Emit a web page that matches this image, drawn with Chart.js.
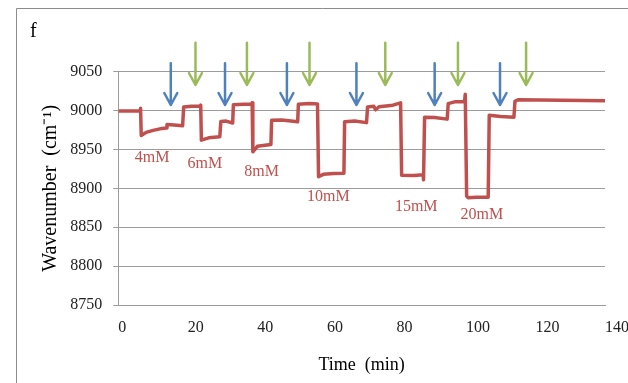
<!DOCTYPE html>
<html><head><meta charset="utf-8">
<script src="https://cdn.jsdelivr.net/npm/chart.js@4/dist/chart.umd.min.js"></script>
<style>html,body{margin:0;padding:0;background:#fff;overflow:hidden}canvas{display:block}</style>
</head><body>
<canvas id="c" width="628" height="383"></canvas>
<script>
// ---- data ----
const time = [0, 6.3, 6.4, 6.6, 8, 10, 12, 13.8, 14.0, 16, 18.5, 18.8, 21, 23.5, 23.7, 23.9, 26, 29.2, 29.5, 31, 32.9, 33.1, 36, 38.3, 38.5, 38.7, 40, 43.9, 44.1, 47, 49, 51.6, 51.8, 55, 57.3, 57.6, 59, 62, 64.9, 65.1, 68, 71.4, 71.7, 73.5, 74, 75, 79, 81.2, 81.5, 85, 87.7, 87.8, 88.1, 91, 94.6, 94.9, 97, 99.6, 99.8, 100.2, 100.6, 103, 106.4, 106.7, 110, 113.8, 114.1, 115, 140];
const wavenumber = [8999.5, 8999.5, 9003, 8968, 8972, 8974.5, 8976.5, 8977.5, 8982, 8981.5, 8980.5, 9004.5, 9005.5, 9005.5, 9007, 8962, 8965, 8966.5, 8986, 8986.5, 8984, 9007.5, 9008, 9008, 9010, 8947, 8954, 8956.5, 8987.5, 8988, 8987, 8985.5, 9008, 9009, 9008.5, 8915, 8918, 8919, 8919.5, 8985.5, 8986.5, 8984.5, 9004.5, 9005.5, 9001, 9005, 9007, 9010, 8917, 8916.5, 8917.5, 8911, 8991.5, 8991, 8989, 9009, 9011.5, 9011.5, 9021, 8890, 8888, 8888.5, 8888.5, 8994, 8992.5, 8991.5, 9012, 9014, 9012.5];
const xTicks = [0, 20, 40, 60, 80, 100, 120, 140];
const yTicks = [8750, 8800, 8850, 8900, 8950, 9000, 9050];
const concLabels = ['4mM', '6mM', '8mM', '10mM', '15mM', '20mM'];
const concTime = [9.7, 24.9, 41.2, 60.4, 85.7, 104.6];
const concValue = [8939, 8932, 8921.7, 8889.3, 8876.4, 8865.7];
const blueArrowTime = [15.1, 30.7, 48.5, 68.5, 91.0, 109.8];
const greenArrowTime = [22.2, 37.0, 55.0, 76.8, 97.7, 117.3];
const blueArrowFrom = 9060.8, blueArrowTo = 9007.2;
const greenArrowFrom = 9087.3, greenArrowTo = 9032.9;

const SERIF = "'Liberation Serif', 'Times New Roman', serif";
const RED = '#c0504d', BLUE = '#4f81bd', GREEN = '#9bbb59', GRID = '#9c9c9c';

const points = time.map((t, i) => ({x: t, y: wavenumber[i]}));

const framePlugin = {
  id: 'frame',
  beforeDraw(chart) {
    const ctx = chart.ctx;
    ctx.save();
    ctx.fillStyle = '#fff';
    ctx.fillRect(0, 0, chart.width, chart.height);
    ctx.strokeStyle = '#8c8c8c';
    ctx.lineWidth = 1;
    ctx.beginPath();
    ctx.moveTo(16.5, chart.height);
    ctx.lineTo(16.5, 8.5);
    ctx.lineTo(chart.width, 8.5);
    ctx.stroke();
    ctx.restore();
  }
};

const annotPlugin = {
  id: 'annot',
  afterDatasetsDraw(chart) {
    const ctx = chart.ctx, xs = chart.scales.x, ys = chart.scales.y;
    ctx.save();
    ctx.font = '16px ' + SERIF;
    ctx.fillStyle = RED;
    ctx.textAlign = 'center';
    ctx.textBaseline = 'middle';
    concLabels.forEach((s, i) => {
      ctx.fillText(s, xs.getPixelForValue(concTime[i]), ys.getPixelForValue(concValue[i]));
    });
    const arrow = (t, from, to, color) => {
      const x = xs.getPixelForValue(t);
      const y0 = ys.getPixelForValue(from), y1 = ys.getPixelForValue(to);
      ctx.strokeStyle = color;
      ctx.lineWidth = 2.5;
      ctx.lineCap = 'round';
      ctx.lineJoin = 'round';
      ctx.beginPath();
      ctx.moveTo(x, y0); ctx.lineTo(x, y1);
      ctx.moveTo(x - 6.5, y1 - 12); ctx.lineTo(x, y1); ctx.lineTo(x + 6.5, y1 - 12);
      ctx.stroke();
    };
    blueArrowTime.forEach(t => arrow(t, blueArrowFrom, blueArrowTo, BLUE));
    greenArrowTime.forEach(t => arrow(t, greenArrowFrom, greenArrowTo, GREEN));
    ctx.restore();
  }
};

new Chart(document.getElementById('c'), {
  type: 'line',
  data: {
    datasets: [{
      data: points,
      borderColor: RED,
      borderWidth: 3.5,
      pointRadius: 0,
      tension: 0,
      fill: false,
      borderJoinStyle: 'round',
      borderCapStyle: 'butt'
    }]
  },
  options: {
    responsive: false,
    devicePixelRatio: 1,
    animation: false,
    events: [],
    layout: {padding: {left: 30, right: 23, top: 0, bottom: 0}},
    plugins: {
      legend: {display: false},
      tooltip: {enabled: false},
      title: {
        display: true,
        text: 'f',
        align: 'start',
        color: '#000',
        font: {family: SERIF, size: 20, weight: 'normal'},
        padding: {top: 19.25, bottom: 28.45}
      }
    },
    scales: {
      x: {
        type: 'linear',
        min: 0, max: 140,
        afterBuildTicks: s => { s.ticks = xTicks.map(v => ({value: v})); },
        afterFit: s => { s.height = 78; s.paddingLeft = 0; s.paddingRight = 0; },
        grid: {display: false, drawTicks: false},
        border: {display: true, color: GRID, width: 1},
        ticks: {
          align: 'start',
          padding: 13,
          color: '#222',
          maxRotation: 0,
          autoSkip: false,
          font: {family: SERIF, size: 16},
          callback: v => String(v)
        },
        title: {
          display: true,
          text: 'Time  (min)',
          color: '#000',
          font: {family: SERIF, size: 18},
          padding: {top: 0, bottom: 7}
        }
      },
      y: {
        type: 'linear',
        min: 8750, max: 9050,
        afterBuildTicks: s => { s.ticks = yTicks.map(v => ({value: v})); },
        afterFit: s => { s.width = 88.3; s.paddingTop = 0; s.paddingBottom = 0; },
        grid: {display: true, color: GRID, lineWidth: 1, drawTicks: true, tickLength: 5},
        border: {display: true, color: GRID, width: 1},
        ticks: {
          padding: 11,
          color: '#222',
          autoSkip: false,
          font: {family: SERIF, size: 16},
          callback: v => String(v)
        },
        title: {
          display: true,
          text: 'Wavenumber  (cm\u207B\u00B9)',
          color: '#000',
          font: {family: SERIF, size: 20},
          padding: {top: 8.25, bottom: 0}
        }
      }
    }
  },
  plugins: [framePlugin, annotPlugin]
});
</script>
</body></html>
